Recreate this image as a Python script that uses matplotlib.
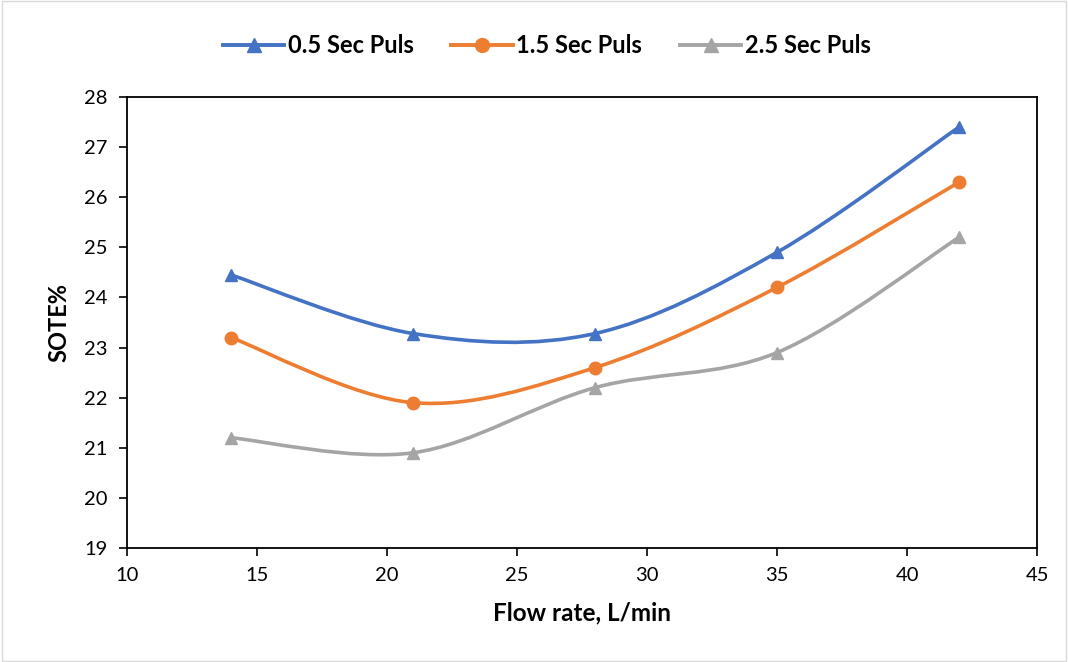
import numpy as np
import matplotlib.pyplot as plt
from matplotlib.path import Path
from matplotlib.patches import PathPatch, Rectangle

flow = [14, 21, 28, 35, 42]
sote_05 = [24.45, 23.28, 23.28, 24.9, 27.4]
sote_15 = [23.2, 21.9, 22.6, 24.2, 26.3]
sote_25 = [21.2, 20.9, 22.2, 22.9, 25.2]
labels = ['0.5 Sec Puls', '1.5 Sec Puls', '2.5 Sec Puls']
colors = ['#4472C4', '#ED7D31', '#A5A5A5']
markers = ['^', 'o', '^']

plt.rcParams['font.family'] = ['Lato', 'DejaVu Sans']

fig = plt.figure(figsize=(10.68, 6.62), dpi=100)
ax = fig.add_axes([0.1189, 0.1722, 0.8521, 0.6813])


def smooth_path(x, y):
    # Excel-like smoothed line: cubic Bezier segments through the points
    pts = np.column_stack([x, y]).astype(float)
    verts = [pts[0]]
    codes = [Path.MOVETO]
    n = len(pts)
    for i in range(n - 1):
        p0 = pts[i - 1] if i > 0 else pts[i]
        p1 = pts[i]
        p2 = pts[i + 1]
        p3 = pts[i + 2] if i + 2 < n else pts[i + 1]
        c1 = p1 + (p2 - p0) / 6.0
        c2 = p2 - (p3 - p1) / 6.0
        verts += [c1, c2, p2]
        codes += [Path.CURVE4] * 3
    return Path(verts, codes)


for ys, lab, c, m in zip([sote_05, sote_15, sote_25], labels, colors, markers):
    ax.add_patch(PathPatch(smooth_path(flow, ys), facecolor='none',
                           edgecolor=c, lw=2.6, capstyle='round', zorder=2))
    ax.plot(flow, ys, ls='none', marker=m, ms=9, color=c, zorder=3)
    ax.plot([], [], color=c, lw=2.8, marker=m, ms=10, label=lab)

ax.set_xlim(10, 45)
ax.set_ylim(19, 28)
ax.set_xticks(range(10, 46, 5))
ax.set_yticks(range(19, 29))
for s in ax.spines.values():
    s.set_linewidth(1.3)
    s.set_color('black')
ax.tick_params(direction='out', length=6, width=1.2, labelsize=14.5, pad=8)
ax.set_xlabel('Flow rate, L/min', fontsize=17.5, fontweight='bold', labelpad=12)
ax.set_ylabel('SOTE%', fontsize=17, fontweight='bold', labelpad=10)

fig.legend(loc='upper center', bbox_to_anchor=(0.512, 0.98), ncol=3,
           frameon=False, prop={'weight': 'bold', 'size': 17},
           handlelength=2.6, columnspacing=1.6, handletextpad=0.15)

fig.patches.append(Rectangle((0.002, 0.002), 0.996, 0.996, transform=fig.transFigure,
                             fill=False, edgecolor='#D9D9D9', lw=1))

fig.savefig('out.png', dpi=100)
